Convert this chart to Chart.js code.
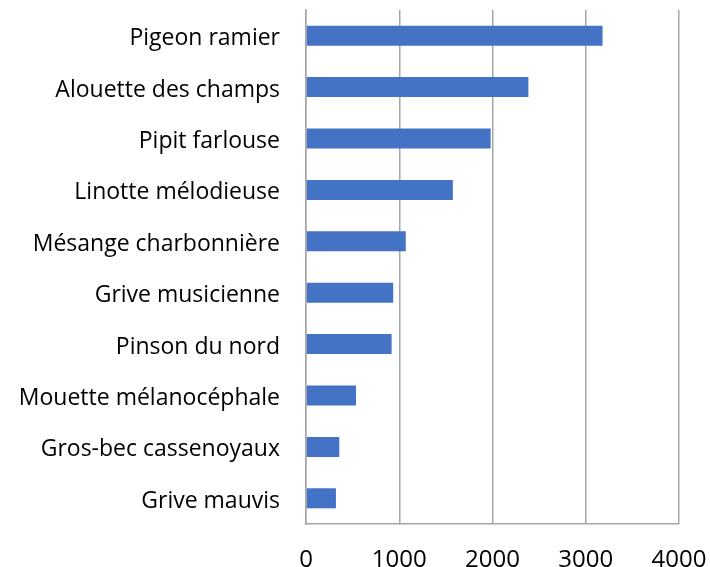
<!DOCTYPE html>
<html>
<head>
<meta charset="utf-8">
<script src="https://cdn.jsdelivr.net/npm/chart.js@4.4.0/dist/chart.umd.min.js"></script>
<style>
  html, body { margin: 0; padding: 0; background: #fff; }
  #wrap { width: 710px; height: 567px; }
</style>
</head>
<body>
<div id="wrap"><canvas id="birdChart"></canvas></div>
<script>
// species, top to bottom
const species = [
    'Pigeon ramier', 'Alouette des champs', 'Pipit farlouse', 'Linotte mélodieuse',
    'Mésange charbonnière', 'Grive musicienne', 'Pinson du nord',
    'Mouette mélanocéphale', 'Gros-bec cassenoyaux', 'Grive mauvis'
];
const counts = [3180, 2385, 1980, 1575, 1070, 935, 918, 536, 357, 321];
const xTicks = [0, 1000, 2000, 3000, 4000];

const gridGray = '#a6a6a6';

new Chart(document.getElementById('birdChart'), {
    type: 'bar',
    data: {
        labels: species,
        datasets: [{
            data: counts,
            backgroundColor: '#4472C4',
            borderWidth: 0,
            barPercentage: 0.39,
            categoryPercentage: 1
        }]
    },
    options: {
        indexAxis: 'y',
        responsive: true,
        maintainAspectRatio: false,
        animation: false,
        layout: { padding: { top: 10, right: 31, left: 0, bottom: 0 } },
        plugins: { legend: { display: false }, tooltip: { enabled: false } },
        scales: {
            x: {
                min: xTicks[0],
                max: xTicks[xTicks.length - 1],
                afterBuildTicks: axis => { axis.ticks = xTicks.map(v => ({ value: v })); },
                afterFit: axis => {
                    axis.height = 43;
                    axis.paddingLeft = 0;
                    axis.paddingRight = 0;
                },
                grid: { color: gridGray, lineWidth: 1.5, drawTicks: false },
                border: { display: true, color: gridGray, width: 1.5 },
                ticks: {
                    color: '#000', font: { family: '"Open Sans", sans-serif', size: 24 },
                    padding: 22, maxRotation: 0,
                    callback: v => String(v)
                }
            },
            y: {
                afterFit: axis => {
                    axis.width = 306;
                    axis.paddingTop = 0;
                    axis.paddingBottom = 0;
                },
                grid: { display: false, drawTicks: false },
                border: { display: true, color: gridGray, width: 1.5 },
                ticks: {
                    color: '#000', font: { family: '"Open Sans", sans-serif', size: 23 },
                    padding: 26, autoSkip: false, labelOffset: 3
                }
            }
        }
    }
});
</script>
</body>
</html>
